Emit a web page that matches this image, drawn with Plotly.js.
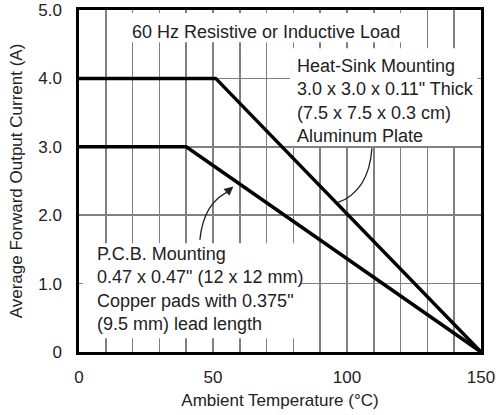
<!DOCTYPE html>
<html>
<head>
<meta charset="utf-8">
<script src="https://cdn.plot.ly/plotly-3.0.1.min.js"></script>
<style>html,body{margin:0;padding:0;background:#fff;}#chart{width:496px;height:415px;}</style>
</head>
<body>
<div id="chart"></div>
<script>
// Data
const heatSinkTemp = [0, 51, 150];
const heatSinkCurrent = [4.0, 4.0, 0];
const pcbTemp = [0, 40, 150];
const pcbCurrent = [3.0, 3.0, 0];
const xTickVals = [0, 50, 100, 150];
const xTickText = ['0', '50', '100', '150'];
const yTickVals = [0, 1, 2, 3, 4, 5];
const yTickText = ['0', '1.0', '2.0', '3.0', '4.0', '5.0'];

const FONT = 'Liberation Sans, Arial, Helvetica, sans-serif';
const TXT = '#222';

const traces = [
  {x: heatSinkTemp, y: heatSinkCurrent, mode: 'lines', line: {color: '#000', width: 3.5}, hoverinfo: 'skip', showlegend: false},
  {x: pcbTemp, y: pcbCurrent, mode: 'lines', line: {color: '#000', width: 3.5}, hoverinfo: 'skip', showlegend: false}
];

const whiteBox = (x0, x1, y0, y1) => ({type: 'rect', xref: 'x', yref: 'y', x0, x1, y0, y1,
  fillcolor: '#fff', line: {width: 0}, layer: 'between'});

const layout = {
  width: 496, height: 415,
  margin: {l: 79, r: 15, t: 10, b: 63},
  paper_bgcolor: '#fff', plot_bgcolor: '#fff',
  font: {family: FONT, size: 17, color: TXT},
  showlegend: false,
  xaxis: {
    range: [0, 150], tickvals: xTickVals, ticktext: xTickText,
    showgrid: true, gridcolor: '#808080', gridwidth: 1.7,
    minor: {dtick: 10, showgrid: true, gridcolor: '#808080', gridwidth: 1.7},
    zeroline: false, showline: true, linecolor: '#000', linewidth: 2.6, mirror: true,
    ticks: '', ticklabelstandoff: 8,
    tickfont: {family: FONT, size: 17, color: TXT},
    title: {text: 'Ambient Temperature (°C)', font: {family: FONT, size: 17, color: TXT}, standoff: 8}
  },
  yaxis: {
    range: [0, 5], tickvals: yTickVals, ticktext: yTickText,
    showgrid: true, gridcolor: '#808080', gridwidth: 1.7,
    zeroline: false, showline: true, linecolor: '#000', linewidth: 2.6, mirror: true,
    ticks: '', ticklabelstandoff: 11,
    tickfont: {family: FONT, size: 17, color: TXT},
    title: {text: 'Average Forward Output Current (A)', font: {family: FONT, size: 17, color: TXT}, standoff: 12}
  },
  shapes: [
    whiteBox(11.6, 123.5, 4.53, 4.955),
    whiteBox(78.7, 148.6, 3.01, 4.44),
    whiteBox(1.5, 82.5, 0.2, 1.59),
    {type: 'path', xref: 'x', yref: 'y', path: 'M 45.1,1.64 Q 46.5,2.2 56.5,2.36', line: {color: '#222', width: 1.3}},
    {type: 'path', xref: 'x', yref: 'y', path: 'M 109.3,2.98 Q 108.2,2.35 96.3,2.18', line: {color: '#222', width: 1.3}}
  ],
  annotations: [
    {x: 69.8, y: 4.68, xref: 'x', yref: 'y', text: '60 Hz Resistive or Inductive Load', showarrow: false,
     font: {family: FONT, size: 18, color: TXT}},
    {x: 80.6, y: 3.67, xref: 'x', yref: 'y', xanchor: 'left', yanchor: 'middle', align: 'left', showarrow: false,
     text: 'Heat-Sink Mounting<br>3.0 x 3.0 x 0.11" Thick<br>(7.5 x 7.5 x 0.3 cm)<br>Aluminum Plate',
     font: {family: FONT, size: 18, color: TXT}},
    {x: 6.0, y: 0.92, xref: 'x', yref: 'y', xanchor: 'left', yanchor: 'middle', align: 'left', showarrow: false,
     text: 'P.C.B. Mounting<br>0.47 x 0.47" (12 x 12 mm)<br>Copper pads with 0.375"<br>(9.5 mm) lead length',
     font: {family: FONT, size: 18, color: TXT}},
    {x: 57.6, y: 2.42, xref: 'x', yref: 'y', text: '', showarrow: true, arrowhead: 2, arrowsize: 1.4,
     arrowwidth: 1.3, arrowcolor: '#222', ax: -7, ay: 6}
  ]
};

Plotly.newPlot('chart', traces, layout, {staticPlot: true, displayModeBar: false});
</script>
</body>
</html>
